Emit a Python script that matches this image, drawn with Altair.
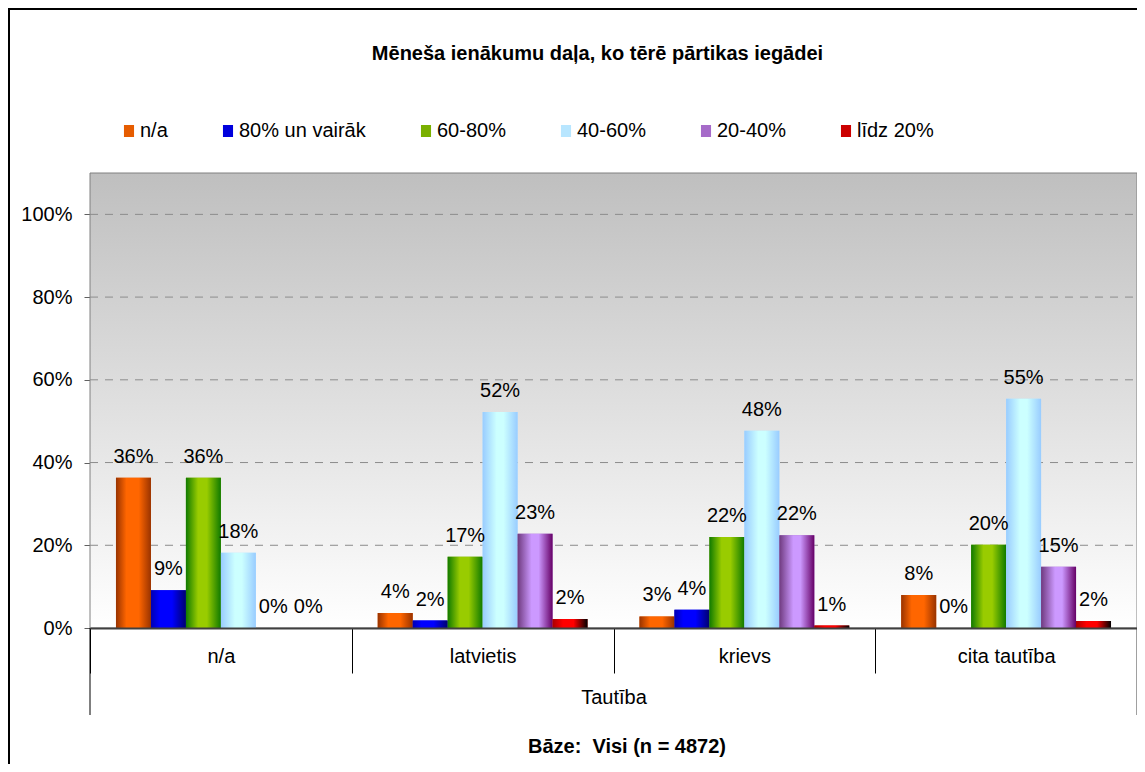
import altair as alt
import pandas as pd

categories = ["n/a", "latvietis", "krievs", "cita tautība"]
series = ["n/a", "80% un vairāk", "60-80%", "40-60%", "20-40%", "līdz 20%"]

v_na = [0.363, 0.036, 0.028, 0.080]
v_80plus = [0.091, 0.018, 0.044, 0.0]
v_60_80 = [0.363, 0.172, 0.220, 0.201]
v_40_60 = [0.182, 0.522, 0.477, 0.554]
v_20_40 = [0.0, 0.228, 0.224, 0.148]
v_to20 = [0.0, 0.022, 0.006, 0.017]

legend_colors = ["#E65C00", "#0000DD", "#7AB000", "#B8E6FF", "#A66BC9", "#CC0000"]
grid_values = [0.2, 0.4, 0.6, 0.8, 1.0]
y_tick_values = [0.0, 0.2, 0.4, 0.6, 0.8, 1.0]

title_text = "Mēneša ienākumu daļa, ko tērē pārtikas iegādei"
x_title = "Tautība"
footer_text = "Bāze:\u00a0 Visi (n = 4872)"

all_vals = [v_na, v_80plus, v_60_80, v_40_60, v_20_40, v_to20]
rows = []
for s, vals in zip(series, all_vals):
    for c, v in zip(categories, vals):
        rows.append({"cat": c, "series": s, "value": v})
df = pd.DataFrame(rows)

W, H = 1047, 455
FONT = "Liberation Sans"
FS = 20


def hgrad(stops):
    return {
        "gradient": "linear", "x1": 0, "x2": 1, "y1": 0, "y2": 0,
        "stops": [{"offset": o, "color": c} for o, c in stops],
    }


bar_grads = [
    hgrad([(0, "#993300"), (0.3, "#FF6600"), (0.65, "#FF6600"), (1, "#993300")]),
    hgrad([(0, "#0000B3"), (0.25, "#0000FF"), (0.6, "#0000FF"), (1, "#000070")]),
    hgrad([(0, "#107A00"), (0.35, "#99CC00"), (0.6, "#99CC00"), (1, "#107A00")]),
    hgrad([(0, "#99CCFF"), (0.4, "#CCFFFF"), (0.6, "#CCFFFF"), (1, "#99CCFF")]),
    hgrad([(0, "#6F3A7F"), (0.4, "#CC99FF"), (0.6, "#CC99FF"), (1, "#660066")]),
    hgrad([(0, "#AA0000"), (0.3, "#FF0000"), (0.6, "#FF0000"), (1, "#000000")]),
]

bg_grad = {
    "gradient": "linear", "x1": 0, "x2": 0, "y1": 0, "y2": 1,
    "stops": [{"offset": 0, "color": "#BFBFBF"}, {"offset": 1, "color": "#FFFFFF"}],
}

x_enc = alt.X(
    "cat:N", sort=categories,
    scale=alt.Scale(domain=categories, paddingInner=0, paddingOuter=0),
    axis=alt.Axis(
        title=x_title, labelAngle=0, labelFontSize=FS, labelColor="black",
        labelFont=FONT, labelPadding=-27, tickBand="extent", tickSize=45,
        tickColor="black", tickWidth=1, domainColor="#404040", domainWidth=2,
        titleFontSize=FS, titleFontWeight="normal", titleColor="black",
        titleFont=FONT, titlePadding=14, zindex=1,
    ),
)
xoff_enc = alt.XOffset(
    "series:N", sort=series,
    scale=alt.Scale(domain=series, paddingInner=0, paddingOuter=0.743),
)
y_scale = alt.Scale(domain=[0, 1.1], nice=False, zero=True)
y_axis = alt.Axis(
    title=None, values=y_tick_values, format=".0%", grid=False, domain=False,
    labelFontSize=FS, labelColor="black", labelFont=FONT, labelPadding=12,
    tickSize=6, tickColor="#606060",
)
y_enc = alt.Y("value:Q", scale=y_scale, axis=y_axis)

base = alt.Chart(df)

background = alt.Chart(pd.DataFrame({"top": [1.1], "bot": [0.0]})).mark_rect(
    color=bg_grad, stroke="#808080", strokeWidth=1
).encode(
    x=alt.value(0), x2=alt.value(W),
    y=alt.Y("top:Q", scale=y_scale, axis=y_axis), y2="bot:Q",
)

grid = alt.Chart(pd.DataFrame({"g": grid_values})).mark_rule(
    color="#8C8C8C", strokeDash=[8, 7], strokeWidth=1
).encode(y=alt.Y("g:Q", scale=y_scale), x=alt.value(0), x2=alt.value(W))

legend_bars = base.mark_bar().encode(
    x=x_enc, xOffset=xoff_enc, y=y_enc,
    color=alt.Color(
        "series:N", sort=series,
        scale=alt.Scale(domain=series, range=legend_colors),
        legend=alt.Legend(
            title=None, orient="none", legendX=29, legendY=-52,
            direction="horizontal", columns=6, columnPadding=50,
            labelFontSize=FS, labelFont=FONT, labelColor="black", labelOffset=1,
            symbolType="M-0.84,-1H0.84V1H-0.84Z", symbolSize=144,
            symbolStrokeWidth=0, padding=0, symbolOpacity=1,
        ),
    ),
)

grad_layers = []
for s, g in zip(series, bar_grads):
    grad_layers.append(
        base.transform_filter(alt.datum.series == s)
        .mark_bar(color=g)
        .encode(x=x_enc, xOffset=xoff_enc, y=y_enc)
    )

labels = base.mark_text(
    dy=-15, baseline="alphabetic", fontSize=FS, font=FONT, color="black"
).encode(
    x=x_enc, xOffset=xoff_enc, y=y_enc,
    text=alt.Text("value:Q", format=".0%"),
)

one = pd.DataFrame({"a": [0]})
outer_left = alt.Chart(one).mark_rule(color="black", strokeWidth=1).encode(
    x=alt.value(0), y=alt.value(H), y2=alt.value(H + 87)
)
outer_right = alt.Chart(one).mark_rule(color="#404040", strokeWidth=1).encode(
    x=alt.value(W), y=alt.value(H), y2=alt.value(H + 87)
)
frame = alt.Chart(one).mark_rect(
    filled=False, stroke="black", strokeWidth=2
).encode(
    x=alt.value(-81), y=alt.value(-164), x2=alt.value(W + 100), y2=alt.value(H + 200)
)
title_mark = alt.Chart(one).mark_text(
    text=title_text, fontSize=FS, fontWeight="bold", font=FONT,
    baseline="alphabetic", align="center", color="black",
).encode(x=alt.value(W / 2 - 16), y=alt.value(-113))
footer = alt.Chart(one).mark_text(
    text=footer_text, fontSize=FS, fontWeight="bold", font=FONT,
    baseline="alphabetic", align="center", color="black",
).encode(x=alt.value(537), y=alt.value(580))

chart = alt.layer(
    background, grid, legend_bars, *grad_layers, labels,
    outer_left, outer_right, frame, title_mark, footer,
).properties(
    width=W, height=H,
    autosize=alt.AutoSizeParams(type="none"),
    padding={"left": 82, "top": 165, "right": 0, "bottom": 136},
).configure_view(stroke=None).configure(font=FONT)

chart.save("out.html", embed_options={"renderer": "svg", "actions": False})
